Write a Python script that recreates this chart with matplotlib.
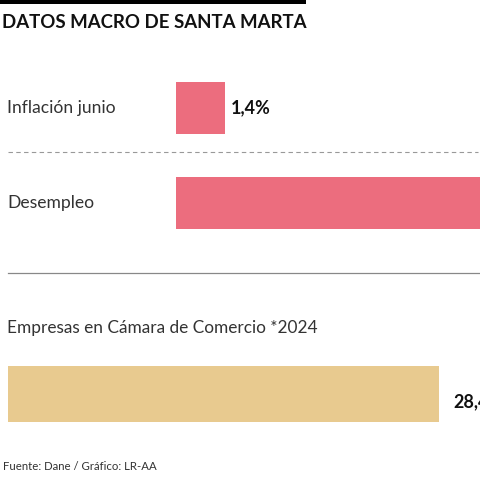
import matplotlib
matplotlib.use("Agg")
import matplotlib.pyplot as plt

title = "DATOS MACRO DE SANTA MARTA"
top_categories = ["Inflación junio", "Desempleo"]
top_values = [1.4, 10.2]
top_labels = ["1,4%", ""]
bottom_category = "Empresas en Cámara de Comercio *2024"
bottom_values = [28.4]
bottom_labels = ["28,4"]
source = "Fuente: Dane / Gráfico: LR-AA"

PINK = "#EC6D7E"
TAN = "#E8CA8F"
FONT = ["Lato", "DejaVu Sans"]

W = H = 480
fig = plt.figure(figsize=(4.8, 4.8), dpi=100)
fig.patch.set_facecolor("white")

def fx(x):
    return x / W

def fy(y):
    return 1 - y / H

# top black strip
fig.add_artist(plt.Rectangle((0, fy(4)), fx(306), 4 / H, transform=fig.transFigure,
                             color="black", lw=0))
fig.text(fx(2), fy(22), title, fontsize=13.4, fontweight="bold", family=FONT,
         va="center", ha="left", color="#111111")

# top axes: two pink bars (centres at y=108 and y=203 px)
top, h = 60.5, 190.0
ax1 = fig.add_axes([fx(176), fy(top + h), fx(480) - fx(176), h / H])
ax1.set_xlim(0, 304 / 35.0)
ax1.set_ylim(-0.5, 1.5)
ax1.invert_yaxis()
ypos = [0, 1]
ax1.barh(ypos, top_values, height=52 / 95.0, color=PINK, lw=0)
for y, v, lab in zip(ypos, top_values, top_labels):
    if lab:
        ax1.text(v + 6 / 35.0, y, lab, fontsize=13, fontweight="bold", family=FONT,
                 va="center", ha="left", color="#111111")
ax1.axis("off")

label_y = [108, 203]
for cat, yy in zip(top_categories, label_y):
    fig.text(fx(7), fy(yy), cat, fontsize=12.6, fontweight="normal", family=FONT,
             va="center", ha="left", color="#333333")

# separators
fig.add_artist(plt.Line2D([fx(8), fx(478)], [fy(152), fy(152)], transform=fig.transFigure,
                          color="#999999", lw=0.8, ls=(0, (4, 3))))
fig.add_artist(plt.Line2D([fx(8), fx(480)], [fy(273), fy(273)], transform=fig.transFigure,
                          color="#888888", lw=0.9))

fig.text(fx(7), fy(328), bottom_category, fontsize=12.4, fontweight="normal", family=FONT,
         va="center", ha="left", color="#333333")

# bottom axes: tan bar (366..422 px)
ax2 = fig.add_axes([fx(8), fy(440), fx(480) - fx(8), (440 - 348) / H])
ax2.set_xlim(0, 28.4 * 472 / 431.0)
ax2.set_ylim(-0.5, 0.5)
ax2.barh([0], bottom_values, height=56 / 92.0, color=TAN, lw=0)
for v, lab in zip(bottom_values, bottom_labels):
    ax2.text(v + 14 * 28.4 / 431.0, -0.08, lab, fontsize=13, fontweight="bold", family=FONT,
             va="center", ha="left", color="#111111", clip_on=False)
ax2.axis("off")

fig.text(fx(3), fy(466), source, fontsize=8.2, fontweight="normal", family=FONT,
         va="center", ha="left", color="#333333")

fig.savefig("out.png", dpi=100, facecolor="white")
